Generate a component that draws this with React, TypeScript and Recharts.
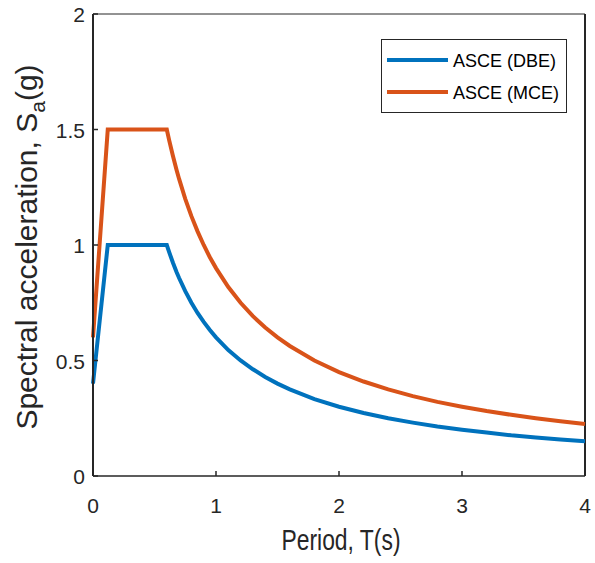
import React from 'react';
import { LineChart, Line, XAxis, YAxis, ReferenceLine, Label, Legend } from 'recharts';

// values
const period = [0, 0.12, 0.6, 0.62, 0.65, 0.68, 0.7, 0.75, 0.8, 0.85, 0.9, 0.95, 1.0, 1.1, 1.2, 1.3, 1.4, 1.5, 1.6, 1.8, 2.0, 2.2, 2.4, 2.6, 2.8, 3.0, 3.2, 3.4, 3.6, 3.8, 4.0];
const dbe = [0.4, 1.0, 1.0, 0.968, 0.923, 0.882, 0.857, 0.8, 0.75, 0.706, 0.667, 0.632, 0.6, 0.545, 0.5, 0.462, 0.429, 0.4, 0.375, 0.333, 0.3, 0.273, 0.25, 0.231, 0.214, 0.2, 0.188, 0.176, 0.167, 0.158, 0.15];
const mce = [0.6, 1.5, 1.5, 1.452, 1.385, 1.324, 1.286, 1.2, 1.125, 1.059, 1.0, 0.947, 0.9, 0.818, 0.75, 0.692, 0.643, 0.6, 0.563, 0.5, 0.45, 0.409, 0.375, 0.346, 0.321, 0.3, 0.281, 0.265, 0.25, 0.237, 0.225];

const xTicks = [0, 1, 2, 3, 4];
const yTicks = [0, 0.5, 1, 1.5, 2];
const seriesNames = ['ASCE (DBE)', 'ASCE (MCE)'];
const seriesColors = ['#0072BD', '#D95319'];

const data = period.map((t, i) => ({ period: t, dbe: dbe[i], mce: mce[i] }));

const AXIS = '#262626';
const FONT = '"Liberation Sans", Arial, sans-serif';

function XTick(props: any) {
    const { x, y, payload } = props;
    return <g>
        <line x1={x} y1={y} x2={x} y2={y - 5} stroke={AXIS} strokeWidth={1.5} />
        <text x={x} y={y + 37} textAnchor="middle" fontFamily={FONT} fontSize={21} fill={AXIS}>{payload.value}</text>
    </g>;
}

function YTick(props: any) {
    const { x, y, payload } = props;
    return <g>
        <line x1={x} y1={y} x2={x + 5} y2={y} stroke={AXIS} strokeWidth={1.5} />
        <text x={x - 8} y={y + 8} textAnchor="end" fontFamily={FONT} fontSize={21} fill={AXIS}>{payload.value}</text>
    </g>;
}

function YTitle(props: any) {
    const vb = props.viewBox;
    const cx = 37;
    const cy = vb.y + vb.height / 2 + 2;
    return <text x={cx} y={cy} transform={`rotate(-90, ${cx}, ${cy})`} textAnchor="middle" fontFamily={FONT} fontSize={30} fill={AXIS}>
        Spectral acceleration, S<tspan dy={8} fontSize={21}>a</tspan><tspan dy={-8}>(g)</tspan>
    </text>;
}

function XTitle(props: any) {
    const vb = props.viewBox;
    const cx = vb.x + vb.width / 2 + 2;
    return <text x={cx} y={550} textAnchor="middle" fontFamily={FONT} fontSize={29} fill={AXIS} textLength={119} lengthAdjust="spacingAndGlyphs">
        Period, T(s)
    </text>;
}

function LegendBox(props: any) {
    const items = props.payload || [];
    return <svg width={186} height={74} style={{ display: 'block' }}>
        <rect x={0.5} y={0.5} width={185} height={73} fill="#fff" stroke={AXIS} strokeWidth={1} />
        {items.map((item: any, i: number) => <g key={item.value}>
            <line x1={6} y1={21 + i * 32} x2={67} y2={21 + i * 32} stroke={item.color} strokeWidth={4} />
            <text x={72} y={28 + i * 32} fontFamily={FONT} fontSize={18} fill="#000">{item.value}</text>
        </g>)}
    </svg>;
}

export default function App() {
    return <div style={{ position: 'absolute', left: 0, top: 0, background: '#fff' }}>
        <LineChart width={595} height={563} data={data} margin={{ top: 14, right: 10, bottom: 0, left: 0 }}>
            <XAxis dataKey="period" type="number" domain={[0, 4]} ticks={xTicks} height={87}
                axisLine={{ stroke: AXIS, strokeWidth: 1.5 }} tickLine={false} tickSize={0} tickMargin={0} tick={<XTick />}>
                <Label content={<XTitle />} />
            </XAxis>
            <YAxis type="number" domain={[0, 2]} ticks={yTicks} width={93}
                axisLine={{ stroke: AXIS, strokeWidth: 2 }} tickLine={false} tickSize={0} tickMargin={0} tick={<YTick />}>
                <Label content={<YTitle />} />
            </YAxis>
            <ReferenceLine x={4} stroke={AXIS} strokeWidth={2} />
            <ReferenceLine y={2} stroke={AXIS} strokeWidth={1} />
            <Line dataKey="dbe" name={seriesNames[0]} stroke={seriesColors[0]} strokeWidth={4} dot={false} type="linear" isAnimationActive={false} />
            <Line dataKey="mce" name={seriesNames[1]} stroke={seriesColors[1]} strokeWidth={4} dot={false} type="linear" isAnimationActive={false} />
            <Legend layout="horizontal" verticalAlign="middle" align="center" content={<LegendBox />}
                wrapperStyle={{ left: 381, top: 39, width: 186, height: 74 }} />
        </LineChart>
    </div>;
}
